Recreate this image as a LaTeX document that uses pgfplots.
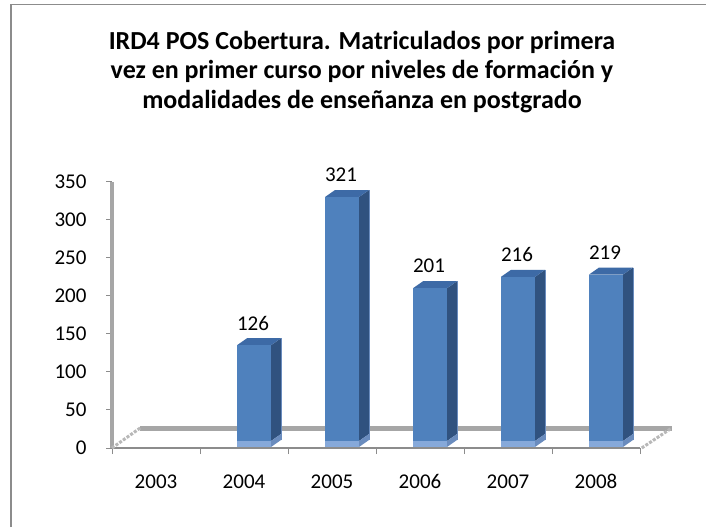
\documentclass[border=0pt]{standalone}
\usepackage{pgfplots}
\pgfplotsset{compat=1.18}
\usepackage{fontspec}
\setmainfont{Carlito}
\definecolor{barfront}{HTML}{4F81BD}
\definecolor{barside}{HTML}{30527F}
\definecolor{bartop}{HTML}{3D6AA6}
\definecolor{barbase}{HTML}{86A9DA}
\definecolor{barsidebase}{HTML}{6A8CBE}
\definecolor{axgray}{HTML}{A6A6A6}
\definecolor{frontgray}{HTML}{8C8C8C}
\pgfdeclareplotmark{bar3d}{%
  \pgfmathsetmacro\h{\barval*0.76}%
  \pgfmathsetmacro\ya{7-\h}%
  \pgfmathsetmacro\yb{1-\h}%
  \pgfmathsetmacro\yc{14-\h}%
  \pgfmathsetmacro\yd{8-\h}%
  % side face
  \pgfsetfillcolor{barside}%
  \pgfpathmoveto{\pgfpoint{27pt}{\ya pt}}%
  \pgfpathlineto{\pgfpoint{37pt}{\yc pt}}%
  \pgfpathlineto{\pgfpoint{37pt}{14pt}}%
  \pgfpathlineto{\pgfpoint{27pt}{7pt}}%
  \pgfpathclose
  \pgfusepath{fill}%
  % side base
  \pgfsetfillcolor{barsidebase}%
  \pgfpathmoveto{\pgfpoint{27pt}{\yb pt}}%
  \pgfpathlineto{\pgfpoint{37pt}{\yd pt}}%
  \pgfpathlineto{\pgfpoint{37pt}{\yc pt}}%
  \pgfpathlineto{\pgfpoint{27pt}{\ya pt}}%
  \pgfpathclose
  \pgfusepath{fill}%
  % top face
  \pgfsetfillcolor{bartop}%
  \pgfpathmoveto{\pgfpoint{-7pt}{7pt}}%
  \pgfpathlineto{\pgfpoint{27pt}{7pt}}%
  \pgfpathlineto{\pgfpoint{37pt}{14pt}}%
  \pgfpathlineto{\pgfpoint{3pt}{14pt}}%
  \pgfpathclose
  \pgfusepath{fill}%
  % front face
  \pgfsetfillcolor{barfront}%
  \pgfpathrectanglecorners{\pgfpoint{-7pt}{\ya pt}}{\pgfpoint{27pt}{7pt}}%
  \pgfusepath{fill}%
  % front base
  \pgfsetfillcolor{barbase}%
  \pgfpathrectanglecorners{\pgfpoint{-7pt}{\yb pt}}{\pgfpoint{27pt}{\ya pt}}%
  \pgfusepath{fill}%
  % light right edge
  \pgfsetstrokecolor{barsidebase}%
  \pgfsetlinewidth{1.2pt}%
  \pgfpathmoveto{\pgfpoint{37.4pt}{\yd pt}}%
  \pgfpathlineto{\pgfpoint{37.4pt}{14pt}}%
  \pgfusepath{stroke}%
}
\begin{document}
\begin{tikzpicture}
\fill[white] (0,0) rectangle (706pt,527pt);
\draw[frontgray, line width=1.3pt] (11pt,0pt) -- (11pt,522.5pt) -- (706pt,522.5pt);
\node[font=\fontsize{26}{29.5}\selectfont\bfseries, align=center, inner sep=0pt, anchor=north]
  at (362pt,496pt) {IRD4 POS Cobertura. Matriculados por primera\\vez en primer  curso por niveles de formación y\\modalidades de enseñanza en postgrado};
\begin{axis}[
  at={(112pt,79pt)}, anchor=south west,
  scale only axis, width=528pt, height=266pt,
  xmin=-0.5, xmax=5.5, ymin=0, ymax=350,
  clip=false,
  axis lines*=left,
  x axis line style={frontgray, line width=2pt},
  y axis line style={axgray, line width=4.5pt},
  tick align=outside,
  major tick length=6pt,
  xtick={-0.5,0.5,1.5,2.5,3.5,4.5,5.5},
  xticklabels={},
  x tick style={frontgray, line width=1pt},
  extra x ticks={0,1,2,3,4,5},
  extra x tick labels={2003,2004,2005,2006,2007,2008},
  extra x tick style={major tick length=0pt},
  x tick label style={yshift=-23pt, text height=14pt, text depth=0pt},
  ytick={0,50,...,350},
  y tick style={frontgray, line width=1pt},
  y tick label style={xshift=-16pt},
  tick label style={font=\fontsize{21}{24}\selectfont},
  /pgf/number format/assume math mode=true,
]
% floor
\draw[axgray, line width=5pt] (axis cs:-0.18,26.3) -- (axis cs:5.86,26.3);
\draw[axgray!80, line width=3pt, dash pattern=on 3pt off 1.5pt] (axis cs:-0.5,0) -- (axis cs:-0.18,26.3);
\draw[axgray!80, line width=3pt, dash pattern=on 3pt off 1.5pt] (axis cs:5.52,0) -- (axis cs:5.86,26.3);
\addplot[only marks, mark=bar3d,
  visualization depends on={rawy \as \barval},
  nodes near coords,
  nodes near coords style={font=\fontsize{21}{24}\selectfont, black, anchor=center, xshift=9pt, yshift=29pt},
] coordinates {(1,126) (2,321) (3,201) (4,216) (5,219)};
\end{axis}
\pgfresetboundingbox
\path (0,0) rectangle (706pt,527pt);
\end{tikzpicture}
\end{document}
